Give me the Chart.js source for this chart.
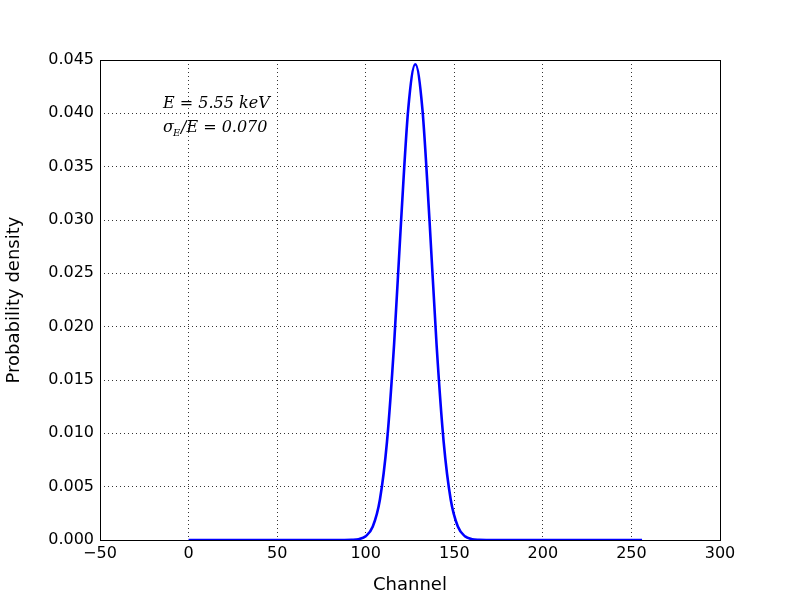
<!DOCTYPE html>
<html>
<head>
<meta charset="utf-8">
<script src="https://cdn.jsdelivr.net/npm/chart.js@4.4.0/dist/chart.umd.min.js"></script>
<style>
  body { margin: 0; background: #fff; }
  canvas { display: block; }
</style>
</head>
<body>
<canvas id="chart" width="800" height="600"></canvas>
<script>
// values
var channels = [0, 88, 92, 96, 100, 104, 108, 112, 116, 120, 124, 128, 132, 136, 140, 144, 148, 152, 156, 160, 164, 168, 256];
var density = [0, 0, 0.000015, 0.00008, 0.00035, 0.00127, 0.00378, 0.0092, 0.0183, 0.0300, 0.0404, 0.0446, 0.0404, 0.0300, 0.0183, 0.0092, 0.00378, 0.00127, 0.00035, 0.00008, 0.000015, 0, 0];
var xTicks = [-50, 0, 50, 100, 150, 200, 250, 300];
var yTicks = [0, 0.005, 0.01, 0.015, 0.02, 0.025, 0.03, 0.035, 0.04, 0.045];

var points = channels.map(function (c, i) { return { x: c, y: density[i] }; });

var frame = {
  id: "frame",
  afterDraw: function (chart) {
    var a = chart.chartArea, ctx = chart.ctx;
    ctx.save();
    ctx.strokeStyle = "#000";
    ctx.lineWidth = 1;
    ctx.strokeRect(a.left + 0.5, a.top + 0.5, a.right - a.left, a.bottom - a.top);
    ctx.fillStyle = "#000";
    ctx.font = "italic 16px 'DejaVu Serif'";
    ctx.fillText("E = 5.55 keV", 163, 108);
    ctx.fillText("σ", 163, 132);
    ctx.font = "italic 10px 'DejaVu Serif'";
    ctx.fillText("E", 173, 136);
    ctx.font = "italic 16px 'DejaVu Serif'";
    ctx.fillText("/E = 0.070", 181, 132);
    ctx.restore();
  }
};

var gridOpts = { color: "#000", lineWidth: 0.8, drawTicks: false };
var borderOpts = { display: false, dash: [1, 3] };

new Chart(document.getElementById("chart"), {
  type: "scatter",
  data: {
    datasets: [{
      data: points,
      showLine: true,
      borderColor: "#0000ff",
      borderWidth: 2.6,
      pointRadius: 0,
      cubicInterpolationMode: "monotone"
    }]
  },
  options: {
    responsive: false,
    animation: false,
    devicePixelRatio: 1,
    layout: { padding: { top: 60, right: 80, left: 0, bottom: 0 } },
    plugins: { legend: { display: false }, tooltip: { enabled: false } },
    scales: {
      x: {
        min: -50, max: 300,
        afterBuildTicks: function (s) { s.ticks = xTicks.map(function (v) { return { value: v }; }); },
        afterFit: function (s) { s.height = 60; },
        grid: gridOpts,
        border: borderOpts,
        ticks: { color: "#000", font: { family: "DejaVu Sans", size: 16 }, padding: 4,
          callback: function (v) { return String(v).replace("-", "\u2212"); } },
        title: { display: true, text: "Channel", color: "#000", font: { family: "DejaVu Sans", size: 18 }, padding: { top: 0 } }
      },
      y: {
        min: 0, max: 0.045,
        afterBuildTicks: function (s) { s.ticks = yTicks.map(function (v) { return { value: v }; }); },
        afterFit: function (s) { s.width = 100; },
        grid: gridOpts,
        border: borderOpts,
        ticks: { color: "#000", font: { family: "DejaVu Sans", size: 16 }, padding: 6,
          callback: function (v) { return Number(v).toFixed(3); } },
        title: { display: true, text: "Probability density", color: "#000", font: { family: "DejaVu Sans", size: 18 } }
      }
    }
  },
  plugins: [frame]
});
</script>
</body>
</html>
